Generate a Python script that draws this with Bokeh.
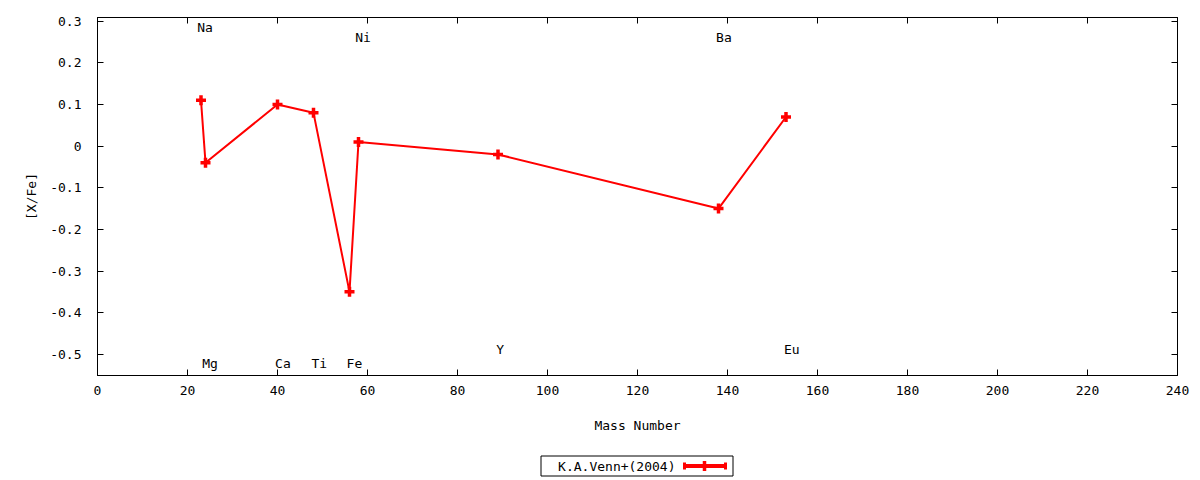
from bokeh.plotting import figure
from bokeh.models import Range1d, LinearAxis, FixedTicker, ColumnDataSource
from bokeh.layouts import column
from bokeh.core.properties import value
from bokeh.embed import file_html
from bokeh.resources import INLINE

# ---- data ----
elements = ["Na", "Mg", "Ca", "Ti", "Fe", "Ni", "Y", "Ba", "Eu"]
mass_number = [23, 24, 40, 48, 56, 58, 89, 138, 153]
x_fe = [0.11, -0.04, 0.10, 0.08, -0.35, 0.01, -0.02, -0.15, 0.07]
label_x = [23.9, 25.0, 41.2, 49.3, 57.1, 59.0, 89.5, 139.2, 154.3]
label_y = [0.285, -0.522, -0.522, -0.522, -0.522, 0.262, -0.489, 0.262, -0.489]
x_ticks = [0, 20, 40, 60, 80, 100, 120, 140, 160, 180, 200, 220, 240]
y_ticks = [-0.5, -0.4, -0.3, -0.2, -0.1, 0, 0.1, 0.2, 0.3]
y_tick_labels = {-0.5: "-0.5", -0.4: "-0.4", -0.3: "-0.3", -0.2: "-0.2", -0.1: "-0.1",
                 0: "0", 0.1: "0.1", 0.2: "0.2", 0.3: "0.3"}
series_name = "K.A.Venn+(2004)"

FONT = "DejaVu Sans Mono"
FS = "13px"
RED = "#ff0000"

p = figure(width=1200, height=448, output_backend="svg", toolbar_location=None,
           x_range=Range1d(0, 240), y_range=Range1d(-0.551, 0.309),
           min_border_left=97, min_border_right=23, min_border_top=17,
           min_border_bottom=73, x_axis_label="Mass Number", y_axis_label="[X/Fe]")
p.grid.visible = False
p.outline_line_color = "black"
p.outline_line_width = 1
p.background_fill_color = "white"
p.border_fill_color = "white"

p.xaxis.ticker = FixedTicker(ticks=x_ticks)
p.yaxis.ticker = FixedTicker(ticks=y_ticks)
p.yaxis.major_label_overrides = y_tick_labels
for ax in [p.xaxis[0], p.yaxis[0]]:
    ax.major_tick_in = 6
    ax.major_tick_out = 0
    ax.minor_tick_line_color = None
    ax.axis_line_color = "black"
    ax.major_tick_line_color = "black"
    ax.major_label_text_font = FONT
    ax.major_label_text_font_size = FS
    ax.major_label_text_color = "black"
    ax.axis_label_text_font = FONT
    ax.axis_label_text_font_size = FS
    ax.axis_label_text_font_style = "normal"
    ax.axis_label_text_color = "black"
p.xaxis.major_label_standoff = 10
p.xaxis.axis_label_standoff = 20
p.yaxis.major_label_standoff = 16
p.yaxis.axis_label_standoff = 8

# mirror axes (ticks only)
for loc, tick in [("above", x_ticks), ("right", y_ticks)]:
    ax = LinearAxis(ticker=FixedTicker(ticks=tick))
    ax.major_tick_in = 6
    ax.major_tick_out = 0
    ax.minor_tick_line_color = None
    ax.major_label_overrides = {t: "" for t in tick}
    ax.major_label_standoff = 0
    ax.axis_line_color = "black"
    ax.major_tick_line_color = "black"
    p.add_layout(ax, loc)

src = ColumnDataSource(dict(x=mass_number, y=x_fe))
p.line("x", "y", source=src, line_color=RED, line_width=2)
p.scatter("x", "y", source=src, marker="cross", size=10, line_color=RED, line_width=3.5)

lsrc = ColumnDataSource(dict(x=label_x, y=label_y, t=elements))
p.text("x", "y", text="t", source=lsrc, text_font=value(FONT), text_font_size=FS,
       text_align="center", text_baseline="middle", text_color="black")

# ---- legend (label left of sample, gnuplot style); x data = page pixels ----
leg = figure(width=1200, height=32, output_backend="svg", toolbar_location=None,
             x_range=Range1d(97, 1177), y_range=Range1d(32, 0),
             min_border=0, min_border_left=0, min_border_right=0,
             min_border_top=0, min_border_bottom=0)
leg.axis.visible = False
leg.grid.visible = False
leg.outline_line_color = None
leg.quad(left=[540.5], right=[732.5], top=[7.5], bottom=[27.5],
         fill_color=None, line_color="black", line_width=1)
leg.text(x=[675], y=[17.5], text=[series_name], text_font=value(FONT),
         text_font_size=FS, text_align="right", text_baseline="middle", text_color="black")
leg.line(x=[683, 726], y=[17.5, 17.5], line_color=RED, line_width=4)
leg.segment(x0=[684, 725], y0=[14, 14], x1=[684, 725], y1=[21, 21],
            line_color=RED, line_width=3)
leg.scatter(x=[704], y=[17.5], marker="cross", size=10, line_color=RED, line_width=3.5)

layout = column(p, leg, spacing=0)
open("out.html", "w").write(file_html(layout, INLINE))
